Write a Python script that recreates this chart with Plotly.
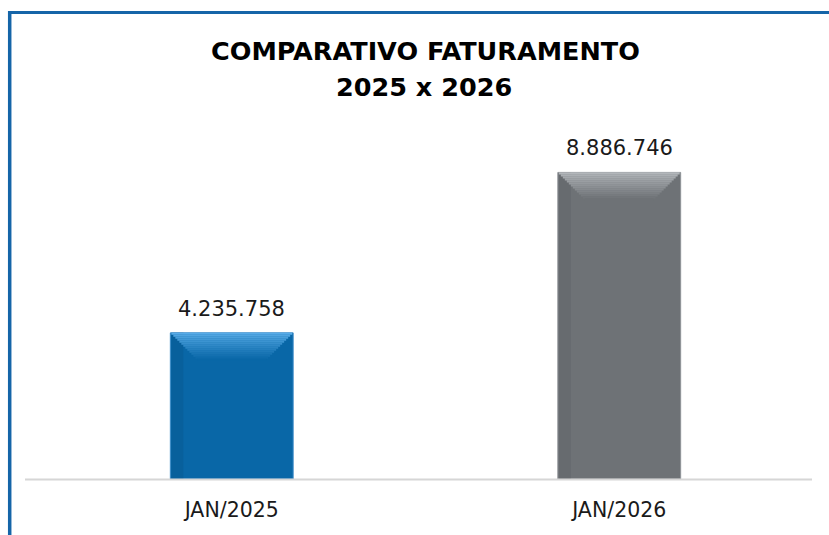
import plotly.graph_objects as go

categories = ["JAN/2025", "JAN/2026"]
values = [4235758, 8886746]
value_labels = ["4.235.758", "8.886.746"]
title_lines = ["COMPARATIVO FATURAMENTO", "2025 x 2026"]

W, H = 829, 535
ML, MR, MT, MB = 38, 16, 134, 56
PW, PH = W - ML - MR, H - MT - MB
YMAX = 10_000_000
BAR_W = 0.317

main_colors = ["#0967a7", "#6e7276"]
edge_colors = ["#075a92", "#5f6367"]
top_light = [(88, 172, 232), (178, 182, 186)]
top_dark = [(9, 103, 167), (110, 114, 118)]

fig = go.Figure()

# main bars
fig.add_trace(go.Bar(
    x=categories, y=values, width=BAR_W, marker_color=main_colors,
    marker_line=dict(color=["#3d8cc8", "#8f9397"], width=1),
    hoverinfo="skip", showlegend=False,
))

unit_per_px = YMAX / PH
cat_px = PW / 2.0

# left side darker strip
side_w = 12 / cat_px
fig.add_trace(go.Bar(
    x=categories, y=values, width=side_w, offset=-BAR_W / 2 + 1 / cat_px,
    marker_color=edge_colors, marker_line_width=0, opacity=0.5,
    hoverinfo="skip", showlegend=False,
))

# top bevel built as stacked narrowing strips
N = 14
depth_px = 28
strip_h = depth_px / N * unit_per_px
for i in range(N):
    t = i / (N - 1)
    cols = []
    for a, b in zip(top_light, top_dark):
        c = tuple(int(a[k] + (b[k] - a[k]) * t ** 0.9) for k in range(3))
        cols.append("rgb(%d,%d,%d)" % c)
    inset_px = (i + 0.5) * depth_px / N
    wdt = BAR_W - 2 * inset_px / cat_px
    fig.add_trace(go.Bar(
        x=categories, y=[strip_h * 1.05] * 2,
        base=[v - (i + 1) * strip_h for v in values],
        width=wdt, marker_color=cols, marker_line_width=0,
        hoverinfo="skip", showlegend=False,
    ))

def px_x(p):
    return (p - ML) / PW

def px_y(p):
    return (H - MB - p) / PH

shapes = [
    dict(type="line", xref="paper", yref="paper", x0=px_x(25), x1=px_x(812),
         y0=px_y(479.5), y1=px_y(479.5), line=dict(color="#d6d6d6", width=2)),
    dict(type="line", xref="paper", yref="paper", x0=px_x(8), x1=px_x(835),
         y0=px_y(12.5), y1=px_y(12.5), line=dict(color="#1565a8", width=3)),
    dict(type="line", xref="paper", yref="paper", x0=px_x(9.7), x1=px_x(9.7),
         y0=px_y(11), y1=px_y(540), line=dict(color="#1565a8", width=3.5)),
]

annotations = [
    dict(text="<b>%s</b>" % title_lines[0], xref="paper", yref="paper",
         x=px_x(425.5), y=px_y(50.5), xanchor="center", yanchor="middle",
         showarrow=False, font=dict(family="DejaVu Sans", size=25.5, color="#000000")),
    dict(text="<b>%s</b>" % title_lines[1], xref="paper", yref="paper",
         x=px_x(423.5), y=px_y(87), xanchor="center", yanchor="middle",
         showarrow=False, font=dict(family="DejaVu Sans", size=25.5, color="#000000")),
]
for c, v, lab in zip(categories, values, value_labels):
    annotations.append(dict(
        text=lab, x=c, y=v, xref="x", yref="y", xanchor="center", yanchor="bottom",
        yshift=10, showarrow=False,
        font=dict(family="DejaVu Sans", size=21, color="#1a1a1a"),
    ))

fig.update_layout(
    width=W, height=H,
    margin=dict(l=ML, r=MR, t=MT, b=MB, pad=0),
    barmode="overlay",
    paper_bgcolor="#ffffff", plot_bgcolor="#ffffff",
    xaxis=dict(showgrid=False, showline=False, zeroline=False,
               ticks="", ticklabelstandoff=16,
               tickfont=dict(family="DejaVu Sans", size=20.5, color="#1a1a1a")),
    yaxis=dict(range=[0, YMAX], visible=False),
    shapes=shapes,
    annotations=annotations,
)

fig.write_html("out.html", config={"displayModeBar": False},
               post_script="document.body.style.margin='0';document.body.style.overflow='hidden';")
